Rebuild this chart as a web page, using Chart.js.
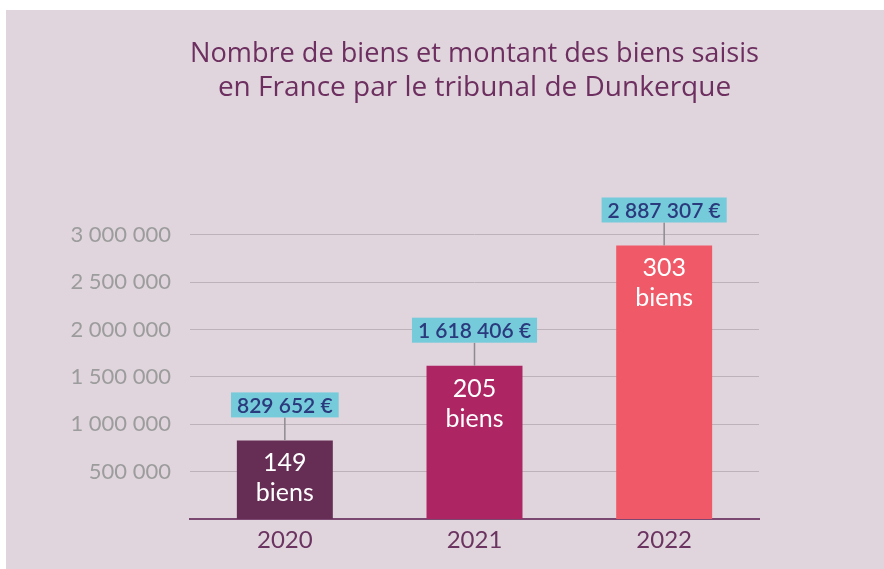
<!DOCTYPE html>
<html>
<head>
<meta charset="utf-8">
<script src="https://cdn.jsdelivr.net/npm/chart.js@4.4.0/dist/chart.umd.min.js"></script>
<style>
  html, body { margin: 0; padding: 0; background: #fff; }
  #wrap { position: absolute; left: 6px; top: 10px; width: 878px; height: 559px; background: #e0d5dd; }
</style>
</head>
<body>
<div id="wrap"><canvas id="chart"></canvas></div>
<script>
const years = ['2020', '2021', '2022'];
const amounts = [829652, 1618406, 2887307];
const counts = [149, 205, 303];
const countUnit = 'biens';
const barColors = ['#662d55', '#ad2563', '#f05a68'];
const yTicks = [500000, 1000000, 1500000, 2000000, 2500000, 3000000];
const titleLines = ['Nombre de biens et montant des biens saisis', 'en France par le tribunal de Dunkerque'];

// 3000000 -> "3 000 000"
function fmt(n) {
  return String(n).replace(/\B(?=(\d{3})+(?!\d))/g, ' ');
}

Chart.defaults.font.family = 'Lato, "Open Sans", sans-serif';

// count inside each bar, amount in a cyan box above it
const barLabels = {
  id: 'barLabels',
  afterDatasetsDraw(chart) {
    const ctx = chart.ctx;
    const meta = chart.getDatasetMeta(0);
    meta.data.forEach((bar, i) => {
      const x = bar.x, top = bar.y;
      ctx.save();
      ctx.textAlign = 'center';
      ctx.fillStyle = '#ffffff';
      ctx.font = '25px Lato';
      ctx.textBaseline = 'alphabetic';
      ctx.fillText(String(counts[i]), x, top + 31);
      ctx.fillText(countUnit, x, top + 61);

      const txt = fmt(amounts[i]) + ' €';
      ctx.font = '600 21px Lato';
      const w = ctx.measureText(txt).width + 12;
      const boxBottom = top - 23;
      const boxTop = boxBottom - 25;
      ctx.strokeStyle = '#8e8a8d';
      ctx.lineWidth = 1.5;
      ctx.beginPath();
      ctx.moveTo(x, top);
      ctx.lineTo(x, boxBottom);
      ctx.stroke();
      ctx.fillStyle = '#76cbdb';
      ctx.fillRect(x - w / 2, boxTop, w, 25);
      ctx.fillStyle = '#2a3a7c';
      ctx.textBaseline = 'middle';
      ctx.fillText(txt, x, boxTop + 13.5);
      ctx.restore();
    });
  }
};

new Chart(document.getElementById('chart'), {
  type: 'bar',
  data: {
    labels: years,
    datasets: [{
      data: amounts,
      backgroundColor: barColors,
      barPercentage: 0.506,
      categoryPercentage: 1
    }]
  },
  options: {
    responsive: true,
    maintainAspectRatio: false,
    animation: false,
    layout: { padding: { left: 0, right: 125, top: 0, bottom: 0 } },
    plugins: {
      legend: { display: false },
      tooltip: { enabled: false },
      title: {
        display: true,
        fullSize: false,
        text: titleLines,
        color: '#6d2f5f',
        font: { family: '"Open Sans", sans-serif', size: 28, weight: 'normal', lineHeight: 1.18 },
        padding: { top: 28, bottom: 36 }
      }
    },
    scales: {
      x: {
        grid: { display: false, drawTicks: false },
        border: { display: true, color: '#7a4870', width: 2 },
        ticks: { color: '#6b3360', font: { size: 24 }, padding: 7 },
        afterFit: s => { s.height = 50; }
      },
      y: {
        min: 0,
        max: 4000000,
        grid: { color: '#bdb2ba', lineWidth: 1, drawTicks: false },
        border: { display: false },
        ticks: {
          color: '#9c9c9c',
          font: { size: 22 },
          padding: 19,
          callback: v => fmt(v)
        },
        afterBuildTicks: s => { s.ticks = yTicks.map(v => ({ value: v })); },
        afterFit: s => { s.width = 184; }
      }
    }
  },
  plugins: [barLabels]
});
</script>
</body>
</html>
